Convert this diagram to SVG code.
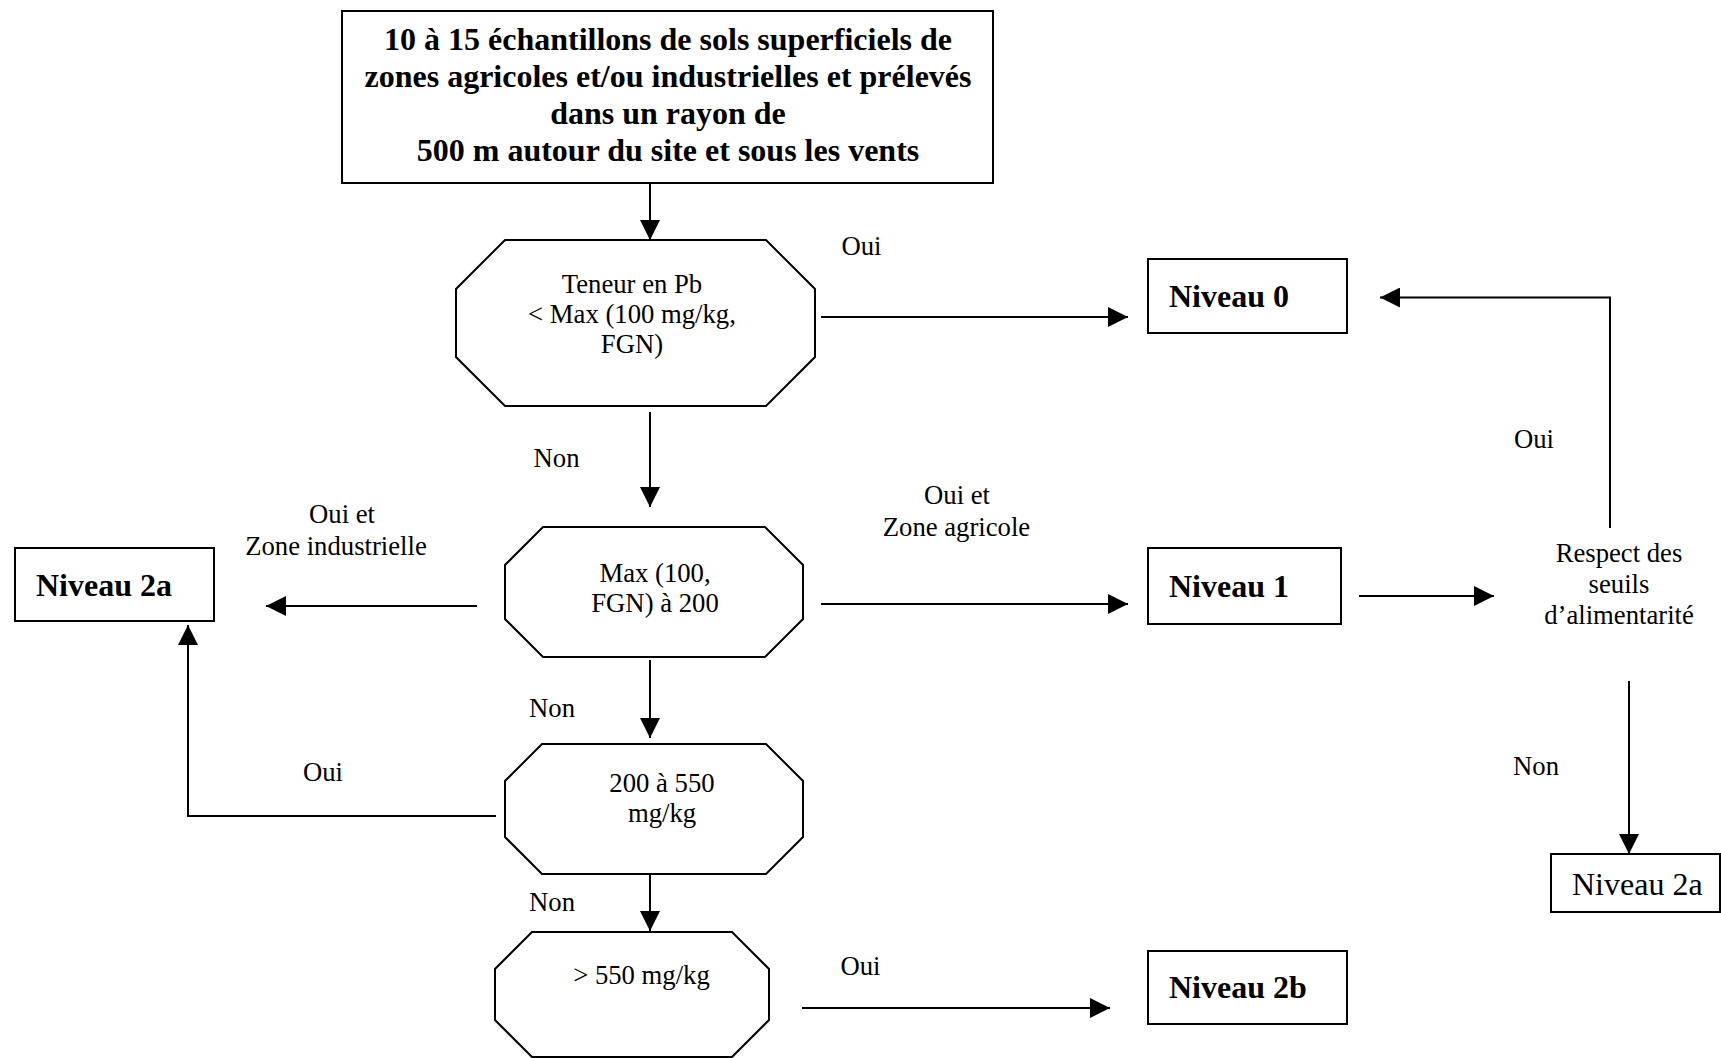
<svg xmlns="http://www.w3.org/2000/svg" width="1721" height="1058" viewBox="0 0 1721 1058">
<style>
  .box { fill: #ffffff; stroke: #000000; stroke-width: 2; }
  .conn { fill: none; stroke: #000000; stroke-width: 2; }
  text { font-family: "Liberation Serif", "Times New Roman", serif; fill: #000000; }
  .t { font-size: 26.7px; }
  .b { font-size: 32px; font-weight: bold; }
  .r32 { font-size: 32px; }
  .c { text-anchor: middle; }
</style>
<defs>
  <marker id="arrow" markerUnits="userSpaceOnUse" markerWidth="20" markerHeight="20" refX="20" refY="10" orient="auto" viewBox="0 0 20 20">
    <path d="M0,0 L20,10 L0,20 z" fill="#000000"/>
  </marker>
</defs>
<rect x="0" y="0" width="1721" height="1058" fill="#ffffff"/>

<g id="connectors">
  <line class="conn" x1="650" y1="183" x2="650" y2="240" marker-end="url(#arrow)"/>
  <line class="conn" x1="650" y1="412" x2="650" y2="507" marker-end="url(#arrow)"/>
  <line class="conn" x1="650" y1="660" x2="650" y2="738" marker-end="url(#arrow)"/>
  <line class="conn" x1="650" y1="874" x2="650" y2="931" marker-end="url(#arrow)"/>
  <line class="conn" x1="821" y1="317" x2="1128" y2="317" marker-end="url(#arrow)"/>
  <line class="conn" x1="821" y1="604" x2="1128" y2="604" marker-end="url(#arrow)"/>
  <line class="conn" x1="477" y1="606" x2="266" y2="606" marker-end="url(#arrow)"/>
  <polyline class="conn" points="496,816 188,816 188,625" marker-end="url(#arrow)"/>
  <line class="conn" x1="802" y1="1008" x2="1110" y2="1008" marker-end="url(#arrow)"/>
  <line class="conn" x1="1359" y1="596" x2="1494" y2="596" marker-end="url(#arrow)"/>
  <polyline class="conn" points="1610,528 1610,297.5 1380,297.5" marker-end="url(#arrow)"/>
  <line class="conn" x1="1629" y1="681" x2="1629" y2="854" marker-end="url(#arrow)"/>

  <text class="t c" x="861.5" y="255">Oui</text>
  <text class="t c" x="1534" y="448">Oui</text>
  <text class="t c" x="556.5" y="467">Non</text>
  <text class="t c" x="957" y="504">Oui et</text>
  <text class="t c" x="956.5" y="536">Zone agricole</text>
  <text class="t c" x="342" y="523">Oui et</text>
  <text class="t c" x="336" y="555">Zone industrielle</text>
  <text class="t c" x="552" y="717">Non</text>
  <text class="t c" x="323" y="781">Oui</text>
  <text class="t c" x="552" y="911">Non</text>
  <text class="t c" x="860.5" y="975">Oui</text>
  <text class="t c" x="1536" y="775">Non</text>
</g>

<g id="start">
  <rect class="box" x="342" y="11" width="651" height="172"/>
  <text class="b c" x="668" y="50">10 à 15 échantillons de sols superficiels de</text>
  <text class="b c" x="668" y="87">zones agricoles et/ou industrielles et prélevés</text>
  <text class="b c" x="668" y="124">dans un rayon de</text>
  <text class="b c" x="668" y="161">500 m autour du site et sous les vents</text>
</g>

<g id="test1">
  <polygon class="box" points="505,240 766,240 815,289 815,357 766,406 505,406 456,357 456,289"/>
  <text class="t c" x="632" y="293">Teneur en Pb</text>
  <text class="t c" x="632" y="323">&lt; Max (100 mg/kg,</text>
  <text class="t c" x="632" y="353">FGN)</text>
</g>

<g id="test2">
  <polygon class="box" points="543,527 765,527 803,565 803,619 765,657 543,657 505,619 505,565"/>
  <text class="t c" x="655" y="582">Max (100,</text>
  <text class="t c" x="655" y="612">FGN) à 200</text>
</g>

<g id="test3">
  <polygon class="box" points="542,744 766,744 803,781 803,837 766,874 542,874 505,837 505,781"/>
  <text class="t c" x="662" y="792">200 à 550</text>
  <text class="t c" x="662" y="822">mg/kg</text>
</g>

<g id="test4">
  <polygon class="box" points="532,932 732,932 769,969 769,1020 732,1057 532,1057 495,1020 495,969"/>
  <text class="t c" x="641.5" y="984">&gt; 550 mg/kg</text>
</g>

<g id="niveau0">
  <rect class="box" x="1148" y="259" width="199" height="74"/>
  <text class="b" x="1169" y="307">Niveau 0</text>
</g>

<g id="niveau1">
  <rect class="box" x="1148" y="548" width="193" height="76"/>
  <text class="b" x="1169" y="597">Niveau 1</text>
</g>

<g id="niveau2a-left">
  <rect class="box" x="15" y="548" width="199" height="73"/>
  <text class="b" x="36" y="596">Niveau 2a</text>
</g>

<g id="niveau2b">
  <rect class="box" x="1148" y="951" width="199" height="73"/>
  <text class="b" x="1169" y="998">Niveau 2b</text>
</g>

<g id="respect">
  <text class="t c" x="1619" y="562">Respect des</text>
  <text class="t c" x="1619" y="593">seuils</text>
  <text class="t c" x="1619" y="624">d’alimentarité</text>
</g>

<g id="niveau2a-right">
  <rect class="box" x="1551" y="854" width="169" height="58"/>
  <text class="r32" x="1572" y="895">Niveau 2a</text>
</g>
</svg>
